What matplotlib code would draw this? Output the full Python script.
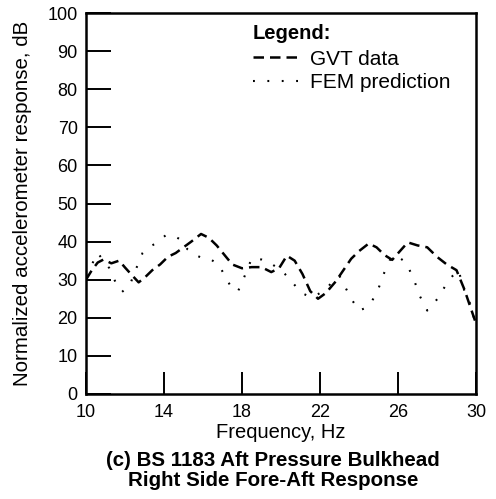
import matplotlib
matplotlib.use("Agg")
import matplotlib.pyplot as plt

plt.rcParams['font.family'] = ['Liberation Sans', 'DejaVu Sans']

# GVT data (dashed)
gvt_freq = [10.0, 10.3, 10.6, 10.9, 11.3, 11.7, 12.0, 12.3, 12.7, 13.0, 13.4, 13.8,
            14.2, 14.6, 15.0, 15.4, 15.9, 16.3, 16.7, 17.1, 17.5, 18.0, 18.5, 19.0,
            19.5, 19.9, 20.3, 20.7, 21.1, 21.5, 21.9, 22.3, 22.8, 23.2, 23.6, 24.0,
            24.5, 24.9, 25.3, 25.7, 26.1, 26.5, 27.0, 27.5, 28.0, 28.5, 29.0, 29.4,
            29.7, 30.0]
gvt_db = [30.0, 32.5, 34.5, 35.3, 34.3, 35.0, 33.2, 31.5, 29.3, 30.5, 32.5, 34.0,
          36.0, 37.0, 38.5, 40.0, 42.0, 41.0, 39.0, 36.5, 34.0, 33.0, 33.3, 33.3,
          32.0, 33.0, 36.3, 35.0, 31.5, 27.0, 25.0, 26.5, 29.5, 32.5, 35.5, 37.5,
          39.5, 38.5, 36.5, 35.2, 37.5, 39.8, 39.0, 38.5, 36.0, 34.0, 32.5, 27.5,
          23.0, 18.5]

# FEM prediction (dotted)
fem_freq = [10.0, 10.3, 10.6, 10.9, 11.2, 11.5, 11.85, 12.25, 12.5, 12.9, 13.2, 13.5,
            13.8, 14.1, 14.5, 14.9, 15.2, 15.6, 16.0, 16.4, 16.8, 17.2, 17.5, 17.8,
            18.1, 18.5, 19.0, 19.4, 19.8, 20.2, 20.5, 20.8, 21.1, 21.5, 21.8, 22.1,
            22.4, 22.7, 23.0, 23.3, 23.6, 24.0, 24.3, 24.6, 25.0, 25.3, 25.65, 26.0,
            26.4, 26.8, 27.1, 27.5, 27.8, 28.05, 28.5, 28.8, 29.1, 29.4, 29.7, 30.0]
fem_db = [31.0, 34.0, 37.0, 35.0, 33.0, 29.5, 26.8, 28.6, 32.0, 37.0, 38.5, 39.3,
          40.5, 41.7, 41.5, 40.4, 38.0, 36.5, 35.6, 35.3, 34.0, 30.3, 27.5, 27.0,
          30.5, 35.6, 35.3, 34.5, 33.2, 31.5, 29.8, 28.0, 26.4, 25.5, 25.9, 26.8,
          28.0, 30.0, 31.0, 28.0, 25.0, 21.9, 22.5, 23.7, 27.7, 31.9, 35.9, 36.0,
          34.6, 30.3, 25.9, 21.9, 23.5, 25.2, 29.0, 31.0, 32.5, 27.2, 23.7, 18.0]

x_ticks = [10, 14, 18, 22, 26, 30]
y_ticks = [0, 10, 20, 30, 40, 50, 60, 70, 80, 90, 100]

fig = plt.figure(figsize=(4.96, 4.99), dpi=100)
ax = fig.add_axes([86/496, 1 - 394/499, 390/496, 381/499])

ax.plot(gvt_freq, gvt_db, color='black', lw=1.8, linestyle=(0, (4.2, 2.4)),
        label='GVT data')
ax.plot(fem_freq, fem_db, color='black', lw=1.5, linestyle=(0, (0.9, 6.0)),
        label='FEM prediction')

ax.set_xlim(10, 30)
ax.set_ylim(0, 100)
ax.set_xticks(x_ticks)
ax.set_yticks(y_ticks)
ax.tick_params(axis='x', direction='in', length=16, width=1.4, labelsize=13, pad=7)
ax.tick_params(axis='y', direction='in', length=18, width=1.4, labelsize=13, pad=6)
for s in ax.spines.values():
    s.set_linewidth(1.8)

ax.set_xlabel('Frequency, Hz', fontsize=14.5, labelpad=2)
ax.set_ylabel('Normalized accelerometer response, dB', fontsize=14.8, labelpad=11)

leg = ax.legend(loc='upper left', bbox_to_anchor=(0.391, 1.0105), frameon=False,
                title='Legend:', fontsize=15, handlelength=2.35,
                handletextpad=0.4, labelspacing=0.23, borderaxespad=0.3)
leg.get_title().set_fontweight('bold')
leg.get_title().set_fontsize(14.5)
leg._legend_box.align = 'left'
leg._legend_box.sep = 5

fig.text(273/496, 1 - 460/499, '(c) BS 1183 Aft Pressure Bulkhead', ha='center',
         va='center', fontsize=14.8, fontweight='bold')
fig.text(273/496, 1 - 481/499, 'Right Side Fore-Aft Response', ha='center',
         va='center', fontsize=14.8, fontweight='bold')

fig.savefig('out.png', dpi=100)
